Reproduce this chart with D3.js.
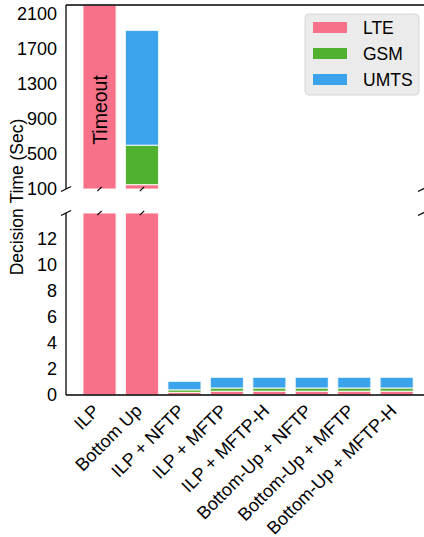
<!DOCTYPE html>
<html>
<head>
<meta charset="utf-8">
<script src="https://cdn.jsdelivr.net/npm/d3@7"></script>
<style>
  html, body { margin: 0; padding: 0; background: #fff; }
  svg { display: block; font-family: "Liberation Sans", Arial, sans-serif; }
</style>
</head>
<body>
<svg id="chart" width="424" height="537"></svg>
<script>
// Decision time per method, stacked by radio access technology
const methods = ["ILP", "Bottom Up", "ILP + NFTP", "ILP + MFTP", "ILP + MFTP-H",
                 "Bottom-Up + NFTP", "Bottom-Up + MFTP", "Bottom-Up + MFTP-H"];
const techs = ["LTE", "GSM", "UMTS"];
const colors = ["#f77189", "#50b131", "#3ba3ec"];
const timeoutSec = 3600; // ILP never finished
const lteTime  = [timeoutSec, 150, 0.20, 0.29, 0.29, 0.29, 0.29, 0.29];
const gsmTime  = [0, 450, 0.20, 0.25, 0.25, 0.25, 0.25, 0.25];
const umtsTime = [0, 1310, 0.65, 0.82, 0.82, 0.82, 0.82, 0.82];
const upperTicks = [100, 500, 900, 1300, 1700, 2100];
const lowerTicks = [0, 2, 4, 6, 8, 10, 12];
const timedOut = ["ILP"];

const rows = methods.map((m, i) => ({ method: m, i, LTE: lteTime[i], GSM: gsmTime[i], UMTS: umtsTime[i] }));
const stacked = d3.stack().keys(techs)(rows);

const svg = d3.select("#chart");
const left = 66, right = 423;
const x = d3.scaleLinear().domain([-0.79, 7.62]).range([left, right]);
const barW = 0.78;

// broken y-axis: two panels
const yTop = d3.scaleLinear().domain([100, 2200]).range([189, 5]).clamp(true);
const yBot = d3.scaleLinear().domain([0, 14]).range([395, 213]).clamp(true);

function drawBars(y) {
  const g = svg.append("g");
  stacked.forEach((layer, k) => {
    g.selectAll(null)
      .data(layer.filter(d => y(d[0]) - y(d[1]) > 0.01))
      .join("rect")
      .attr("x", d => x(d.data.i - barW / 2))
      .attr("width", x(barW) - x(0))
      .attr("y", d => y(d[1]))
      .attr("height", d => y(d[0]) - y(d[1]))
      .attr("fill", colors[k])
      .attr("stroke", "#ffffff")
      .attr("stroke-opacity", 0.75)
      .attr("stroke-width", 1.2);
  });
}
drawBars(yTop);
drawBars(yBot);

// axes
function axisLabels(y, ticks) {
  const ax = d3.axisLeft(y).tickValues(ticks).tickSize(0).tickPadding(9).tickFormat(d3.format("d"));
  const g = svg.append("g").attr("transform", `translate(${left},0)`).call(ax);
  g.select(".domain").remove();
  g.selectAll("text").attr("font-size", 18).attr("fill", "#000")
    .style("font-family", "'Liberation Sans', Arial, sans-serif");
}
axisLabels(yTop, upperTicks);
axisLabels(yBot, lowerTicks);

const line = (x1, y1, x2, y2, w = 1.3) =>
  svg.append("line").attr("x1", x1).attr("y1", y1).attr("x2", x2).attr("y2", y2)
    .attr("stroke", "#000").attr("stroke-width", w);

// spines
line(left, yTop.range()[1], left, yTop.range()[0]);
line(left, yBot.range()[1], left, yBot.range()[0]);
line(left, yTop.range()[1], 424, yTop.range()[1]);
line(left, yBot.range()[0], 424, yBot.range()[0]);

// break markers on the axis
[[yTop.range()[0]], [yBot.range()[1]]].forEach(([yy]) => {
  line(left - 5, yy + 2.5, left + 5, yy - 2.5, 1.2);
  line(423 - 5, yy + 2.5, 423 + 5, yy - 2.5, 1.2);
});
// break markers on bars that run past the lower panel
rows.filter(r => (r.LTE + r.GSM + r.UMTS) > yBot.domain()[1]).forEach(r => {
  const cx = x(r.i);
  line(cx - 2.2, yTop.range()[0] + 2.2, cx + 2.2, yTop.range()[0] - 2.2, 1.2);
  line(cx - 2.2, yBot.range()[1] + 2.2, cx + 2.2, yBot.range()[1] - 2.2, 1.2);
});

// timeout label
rows.filter(r => timedOut.includes(r.method)).forEach(r => {
  svg.append("text")
    .attr("transform", `translate(${x(r.i) + 7},110) rotate(-90)`)
    .attr("text-anchor", "middle")
    .attr("font-size", 19.5)
    .text("Timeout");
});

// x tick labels
svg.append("g").selectAll("text").data(methods).join("text")
  .attr("transform", (d, i) => `translate(${x(i) + 1},412) rotate(-45)`)
  .attr("text-anchor", "end")
  .attr("font-size", 18)
  .text(d => d);

// y title
svg.append("text")
  .attr("transform", "translate(23,197) rotate(-90)")
  .attr("text-anchor", "middle")
  .attr("font-size", 17.5)
  .text("Decision Time (Sec)");

// legend
const lg = svg.append("g");
lg.append("rect").attr("x", 305).attr("y", 14).attr("width", 114).attr("height", 81)
  .attr("rx", 4).attr("fill", "#ebebeb").attr("stroke", "#d6d6d6").attr("stroke-width", 1);
techs.forEach((t, k) => {
  const cy = 27.5 + k * 26;
  lg.append("rect").attr("x", 313).attr("y", cy - 5.5).attr("width", 34).attr("height", 11)
    .attr("fill", colors[k]);
  lg.append("text").attr("x", 363).attr("y", cy + 6.5).attr("font-size", 17.5).text(t);
});
</script>
</body>
</html>
